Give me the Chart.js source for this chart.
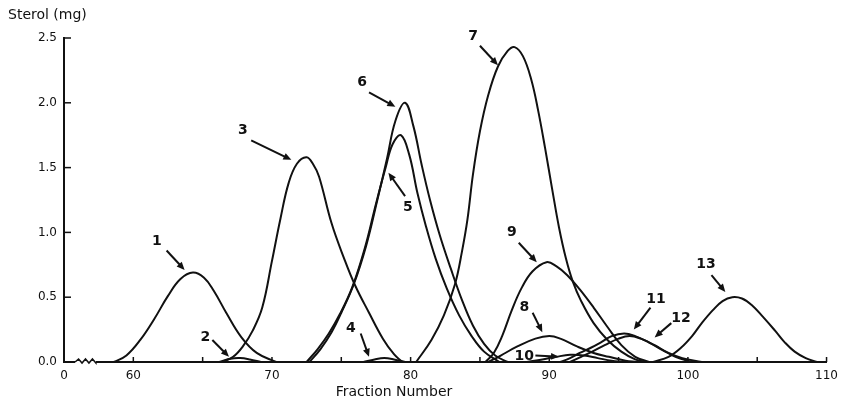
<!DOCTYPE html>
<html>
<head>
<meta charset="utf-8">
<script src="https://cdn.jsdelivr.net/npm/chart.js@4"></script>
<style>
  html, body { margin: 0; padding: 0; background: #fff; }
  #wrap { width: 845px; height: 403px; }
</style>
</head>
<body>
<div id="wrap"><canvas id="chart"></canvas></div>
<script>
// peaks: [fraction, sterol mg]
const peak1 = [[58.6,0],[59.5,0.05],[60.5,0.17],[61.5,0.33],[62.5,0.51],[63.4,0.64],[64.3,0.69],[65.1,0.65],[65.8,0.55],[66.7,0.38],[67.8,0.19],[68.9,0.07],[70.3,0]];
const peak2 = [[66.2,0],[67,0.025],[67.7,0.03],[68.4,0.02],[69.2,0]];
const peak3 = [[66.4,0],[67.2,0.04],[67.9,0.12],[68.6,0.24],[69.3,0.42],[70.0,0.78],[70.6,1.1],[71.2,1.38],[71.8,1.53],[72.5,1.58],[73.0,1.52],[73.4,1.43],[74.3,1.07],[75.2,0.8],[76.0,0.59],[77.0,0.38],[78.0,0.18],[78.8,0.06],[79.4,0]];
const peak4 = [[76.6,0],[77.4,0.02],[78.1,0.03],[78.8,0.02],[79.6,0]];
const peak5 = [[72.5,0],[73.3,0.1],[74.1,0.22],[74.9,0.37],[75.8,0.58],[76.7,0.88],[77.5,1.22],[78.2,1.5],[78.7,1.68],[79.3,1.75],[79.9,1.6],[80.5,1.3],[81.1,1.05],[81.8,0.8],[82.6,0.57],[83.5,0.36],[84.4,0.2],[85.3,0.08],[86.4,0]];
const peak6 = [[72.7,0],[73.5,0.1],[74.3,0.23],[75.0,0.38],[75.9,0.6],[76.8,0.9],[77.6,1.25],[78.3,1.57],[78.9,1.86],[79.6,2.0],[80.2,1.82],[80.8,1.52],[81.4,1.25],[82.1,0.98],[82.9,0.72],[83.7,0.48],[84.5,0.28],[85.3,0.14],[86.1,0.05],[87.0,0]];
const peak7 = [[80.4,0],[81.5,0.17],[82.4,0.36],[83.2,0.6],[83.7,0.85],[84.1,1.1],[84.5,1.45],[85.0,1.78],[85.6,2.06],[86.3,2.28],[87.0,2.4],[87.5,2.43],[88.1,2.36],[88.7,2.18],[89.2,1.94],[89.7,1.65],[90.2,1.34],[90.7,1.04],[91.2,0.8],[91.7,0.62],[92.3,0.47],[93.2,0.3],[94.2,0.17],[95.2,0.08],[96.2,0.02],[97.0,0]];
const peak8 = [[85.6,0],[86.5,0.05],[87.7,0.12],[89.0,0.18],[90.0,0.2],[90.8,0.18],[92.0,0.12],[93.2,0.07],[94.3,0.04],[95.5,0.01],[96.3,0]];
const peak9 = [[85.4,0],[86.0,0.07],[86.6,0.2],[87.3,0.4],[88.0,0.57],[88.8,0.7],[89.8,0.77],[90.5,0.74],[91.3,0.67],[92.2,0.56],[93.2,0.42],[94.2,0.27],[95.2,0.13],[96.2,0.04],[97.2,0]];
const peak10 = [[88.4,0],[89.5,0.02],[90.5,0.04],[91.5,0.055],[92.5,0.05],[93.5,0.03],[94.5,0.01],[95.3,0]];
const peak11 = [[90.8,0],[91.5,0.03],[92.2,0.07],[93.0,0.11],[93.7,0.15],[94.5,0.2],[95.4,0.22],[96.2,0.2],[97.2,0.15],[98.2,0.09],[99.1,0.04],[100.3,0]];
const peak12 = [[91.5,0],[92.3,0.04],[93.1,0.08],[94.0,0.13],[95.0,0.18],[95.8,0.2],[96.6,0.18],[97.6,0.13],[98.6,0.07],[99.6,0.03],[101.0,0]];
const peak13 = [[97.5,0],[98.6,0.04],[99.5,0.11],[100.3,0.2],[101.0,0.3],[101.8,0.4],[102.5,0.47],[103.2,0.5],[103.9,0.49],[104.6,0.44],[105.4,0.35],[106.3,0.24],[107.0,0.15],[107.7,0.08],[108.5,0.03],[109.3,0]];

const peaks = [peak1, peak2, peak3, peak4, peak5, peak6, peak7, peak8, peak9, peak10, peak11, peak12, peak13];
const peakNames = ["1","2","3","4","5","6","7","8","9","10","11","12","13"];

// where each number sits and where its arrow points (data units)
const noteText = [[61.7,0.93],[65.2,0.19],[67.9,1.79],[75.7,0.26],[79.8,1.19],[76.5,2.16],[84.5,2.51],[88.2,0.42],[87.3,1.0],[88.2,0.04],[97.7,0.48],[99.5,0.34],[101.3,0.75]];
const arrowFrom = [[62.4,0.86],[65.7,0.17],[68.5,1.71],[76.4,0.22],[79.6,1.28],[77.0,2.08],[85.0,2.44],[88.8,0.38],[87.8,0.92],[89.0,0.05],[97.3,0.42],[98.8,0.3],[101.7,0.67]];
const arrowTo = [[63.7,0.71],[66.9,0.04],[71.4,1.56],[77.0,0.04],[78.4,1.46],[78.9,1.97],[86.3,2.29],[89.5,0.23],[89.1,0.77],[90.7,0.04],[96.1,0.25],[97.6,0.19],[102.7,0.54]];

const xTickValues = [55, 60, 70, 80, 90, 100, 110];
const xTickLabels = ["0", "60", "70", "80", "90", "100", "110"];
const xMinorTicks = [60, 65, 70, 75, 80, 85, 90, 95, 100, 105, 110];
const yTickValues = [0, 0.5, 1.0, 1.5, 2.0, 2.5];
const axisBreak = [55.8, 57.3];

const ink = "#111";

const notes = {
  id: "notes",
  afterDraw(chart) {
    const { ctx, chartArea, scales: { x, y } } = chart;
    ctx.save();
    ctx.strokeStyle = ink;
    ctx.fillStyle = ink;

    // inward tick marks
    ctx.lineWidth = 1.5;
    xMinorTicks.forEach(v => {
      const px = x.getPixelForValue(v);
      ctx.beginPath();
      ctx.moveTo(px, chartArea.bottom);
      ctx.lineTo(px, chartArea.bottom - 5);
      ctx.stroke();
    });
    yTickValues.forEach(v => {
      const py = y.getPixelForValue(v);
      ctx.beginPath();
      ctx.moveTo(chartArea.left, py);
      ctx.lineTo(chartArea.left + 7, py);
      ctx.stroke();
    });

    // broken-axis squiggle
    const b0 = x.getPixelForValue(axisBreak[0]);
    const b1 = x.getPixelForValue(axisBreak[1]);
    const by = chartArea.bottom;
    ctx.fillStyle = "#fff";
    ctx.fillRect(b0, by - 2, b1 - b0, 4);
    ctx.fillStyle = ink;
    ctx.beginPath();
    const n = 6;
    for (let i = 0; i <= n; i++) {
      const px = b0 + (b1 - b0) * i / n;
      const py = by + (i % 2 === 0 ? 1 : -3);
      if (i === 0) ctx.moveTo(px, by); else ctx.lineTo(px, py);
    }
    ctx.lineTo(b1, by);
    ctx.stroke();

    // peak numbers and arrows
    ctx.font = "bold 14px 'DejaVu Sans'";
    ctx.textAlign = "center";
    ctx.textBaseline = "middle";
    peakNames.forEach((name, i) => {
      ctx.fillText(name, x.getPixelForValue(noteText[i][0]), y.getPixelForValue(noteText[i][1]));
      const fx = x.getPixelForValue(arrowFrom[i][0]), fy = y.getPixelForValue(arrowFrom[i][1]);
      const tx = x.getPixelForValue(arrowTo[i][0]), ty = y.getPixelForValue(arrowTo[i][1]);
      const ang = Math.atan2(ty - fy, tx - fx);
      ctx.lineWidth = 2;
      ctx.beginPath();
      ctx.moveTo(fx, fy);
      ctx.lineTo(tx - 4 * Math.cos(ang), ty - 4 * Math.sin(ang));
      ctx.stroke();
      ctx.beginPath();
      ctx.moveTo(tx, ty);
      ctx.lineTo(tx - 8 * Math.cos(ang) + 3.5 * Math.sin(ang), ty - 8 * Math.sin(ang) - 3.5 * Math.cos(ang));
      ctx.lineTo(tx - 8 * Math.cos(ang) - 3.5 * Math.sin(ang), ty - 8 * Math.sin(ang) + 3.5 * Math.cos(ang));
      ctx.closePath();
      ctx.fill();
    });

    // axis captions
    ctx.font = "14px 'DejaVu Sans'";
    ctx.textAlign = "left";
    ctx.fillText("Sterol (mg)", 8, chartArea.top - 23);
    ctx.textAlign = "center";
    ctx.fillText("Fraction Number", x.getPixelForValue(78.8), chartArea.bottom + 30);
    ctx.restore();
  }
};

new Chart(document.getElementById("chart"), {
  type: "line",
  data: {
    datasets: peaks.map((pts, i) => ({
      label: peakNames[i],
      data: pts.map(p => ({ x: p[0], y: p[1] })),
      borderColor: ink,
      borderWidth: 2,
      pointRadius: 0,
      fill: false,
      tension: 0.4,
    })),
  },
  options: {
    responsive: true,
    maintainAspectRatio: false,
    animation: false,
    layout: { padding: { top: 38, right: 13, left: 0, bottom: 0 } },
    plugins: { legend: { display: false }, tooltip: { enabled: false }, title: { display: false } },
    scales: {
      x: {
        type: "linear",
        min: 55,
        max: 110,
        grid: { display: false, drawTicks: false },
        border: { display: true, color: ink, width: 2 },
        afterBuildTicks: (scale) => { scale.ticks = xTickValues.map(v => ({ value: v })); },
        afterFit: (scale) => { scale.height = 41; },
        ticks: {
          color: ink,
          padding: 7,
          maxRotation: 0,
          autoSkip: false,
          font: { family: "DejaVu Sans", size: 12 },
          callback: (v) => xTickLabels[xTickValues.indexOf(v)],
        },
      },
      y: {
        min: 0,
        max: 2.5,
        grid: { display: false, drawTicks: false },
        border: { display: true, color: ink, width: 2 },
        afterBuildTicks: (scale) => { scale.ticks = yTickValues.map(v => ({ value: v })); },
        afterFit: (scale) => { scale.width = 64; },
        ticks: {
          color: ink,
          padding: 7,
          font: { family: "DejaVu Sans", size: 12 },
          callback: (v) => Number(v).toFixed(1),
        },
      },
    },
  },
  plugins: [notes],
});
</script>
</body>
</html>
